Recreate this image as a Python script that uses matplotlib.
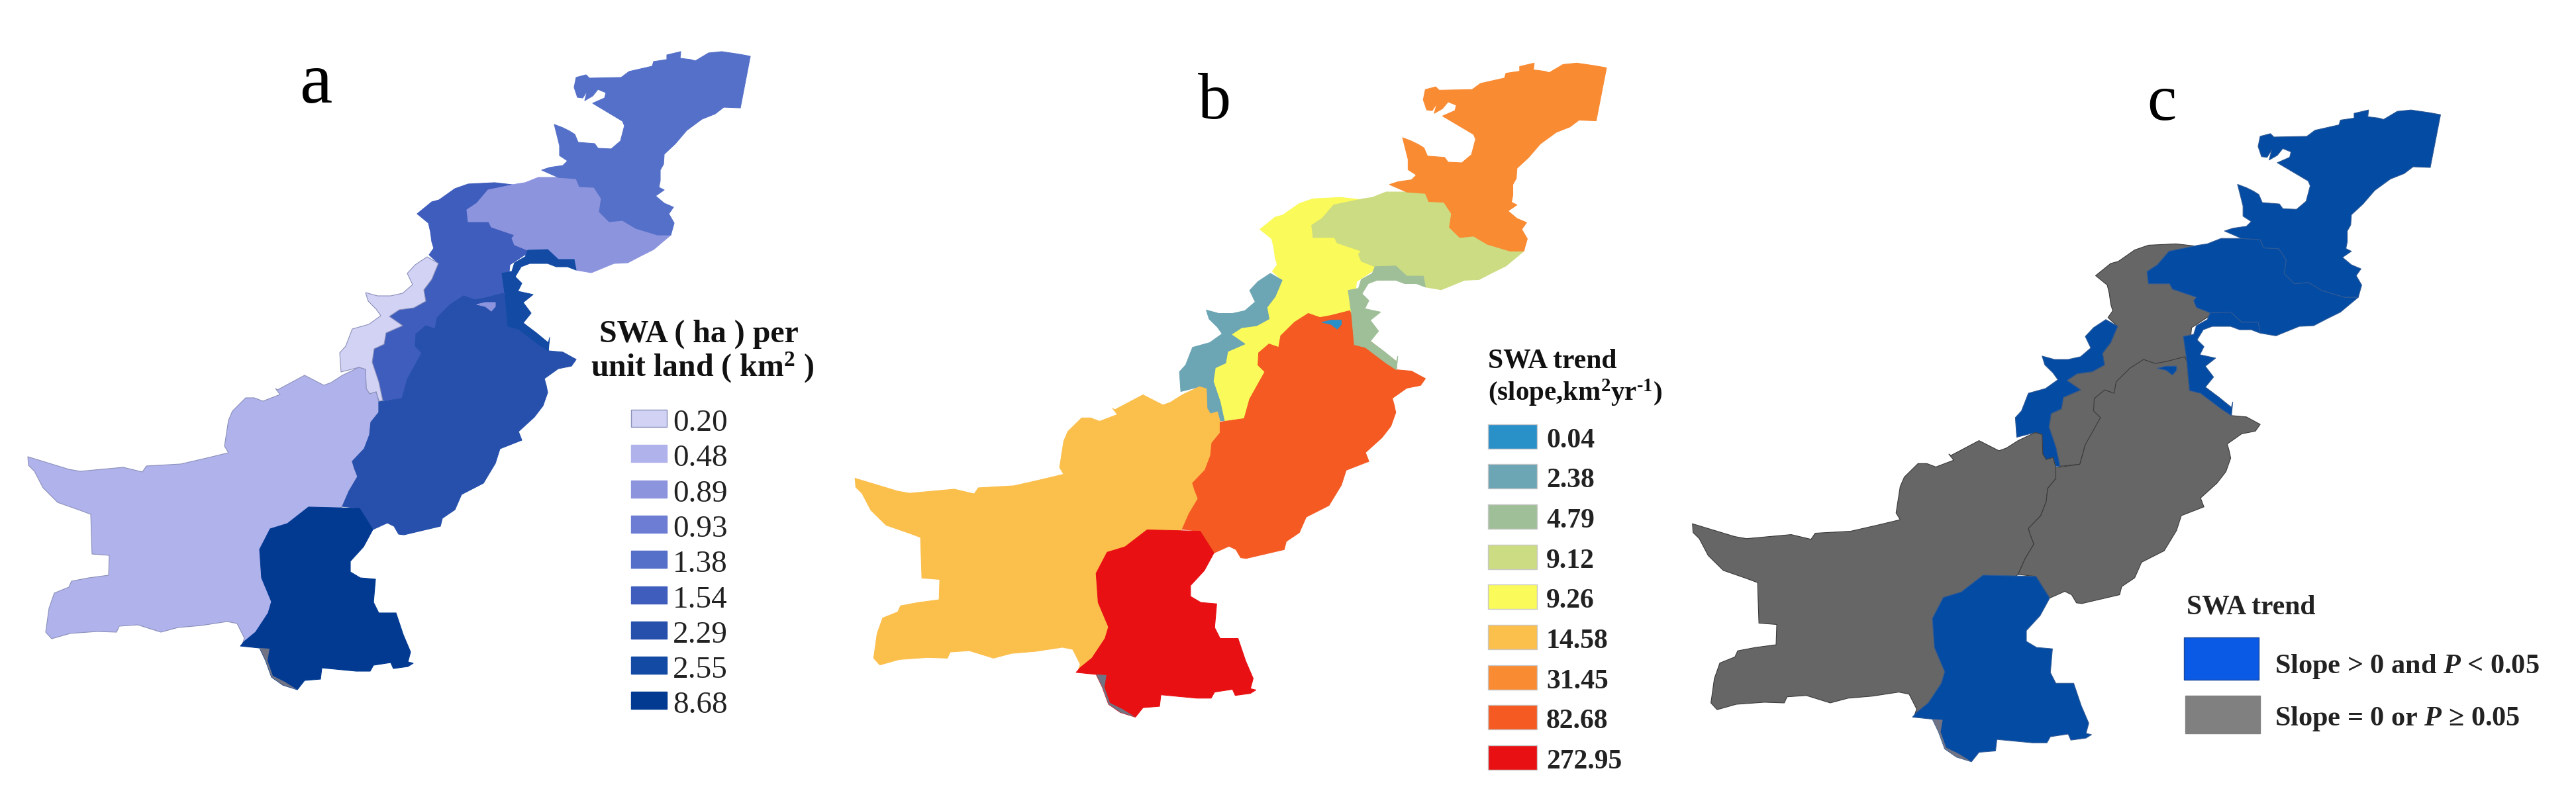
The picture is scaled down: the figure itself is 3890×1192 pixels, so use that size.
import matplotlib
matplotlib.use('Agg')
import matplotlib.pyplot as plt
from matplotlib.patches import Polygon, Rectangle
from matplotlib.transforms import Affine2D

plt.rcParams['font.family'] = ['Liberation Serif', 'DejaVu Serif']
plt.rcParams['mathtext.fontset'] = 'custom'
plt.rcParams['mathtext.rm'] = 'Liberation Serif'
plt.rcParams['mathtext.bf'] = 'Liberation Serif:bold'
plt.rcParams['mathtext.it'] = 'Liberation Serif:italic'
plt.rcParams['mathtext.bfit'] = 'Liberation Serif:italic:bold'

# region outlines, map units
baloch = [(42, 690), (43, 703), (52, 712), (65, 737), (87, 759), (121, 771), (137, 777), (139, 837), (165, 839),
          (164, 869), (134, 873), (108, 878), (104, 887), (82, 896), (74, 919), (69, 955), (78, 965), (106, 957),
          (147, 954), (176, 955), (180, 946), (208, 944), (243, 955), (269, 948), (304, 945), (343, 939), (358, 942),
          (369, 964), (366, 973), (420, 960), (470, 800), (517, 765), (527, 742), (540, 720), (535, 707), (532, 697),
          (550, 678), (558, 657), (560, 638), (572, 623), (572, 607), (568, 592), (558, 595), (553, 587), (552, 558),
          (542, 555), (517, 567), (500, 578), (489, 582), (460, 567), (419, 589), (416, 587), (423, 596), (397, 606),
          (384, 601), (371, 601), (351, 621), (345, 635), (339, 674), (345, 684), (312, 692), (273, 701), (221, 704),
          (215, 713), (186, 706), (121, 712), (104, 709)]
fata = [(552, 442), (570, 447), (590, 447), (608, 443), (623, 430), (615, 413), (627, 400), (645, 388), (662, 398),
        (652, 422), (640, 438), (643, 455), (625, 465), (603, 468), (588, 478), (608, 492), (583, 503), (580, 520),
        (565, 527), (562, 547), (572, 577), (578, 605), (572, 605), (568, 592), (558, 595), (553, 587), (552, 558),
        (542, 555), (515, 562), (513, 533), (522, 523), (532, 497), (557, 490), (575, 477), (568, 467), (556, 455)]
kp = [(630, 323), (652, 305), (663, 302), (687, 285), (707, 278), (747, 276), (782, 280), (800, 380), (770, 400),
      (763, 470), (700, 500), (640, 560), (615, 573), (607, 602), (578, 605), (572, 577), (562, 547), (565, 527),
      (580, 520), (583, 503), (608, 492), (588, 478), (603, 468), (625, 465), (643, 455), (640, 438), (652, 422),
      (662, 398), (648, 385), (655, 375), (652, 365), (650, 350), (647, 337)]
gb = [(780, 278), (793, 276), (813, 268), (843, 268), (870, 270), (875, 282), (897, 283), (908, 300), (905, 320),
      (910, 325), (920, 335), (940, 333), (960, 345), (993, 355), (1013, 355), (987, 377), (967, 387), (948, 397),
      (927, 398), (893, 412), (870, 408), (867, 392), (843, 392), (827, 377), (797, 378), (777, 370), (773, 360),
      (777, 355), (742, 343), (738, 335), (707, 335), (705, 317), (720, 307), (737, 287)]
north = [(818, 257), (830, 253), (850, 250), (857, 243), (845, 235), (845, 220), (837, 188), (850, 193), (860, 198),
         (868, 203), (873, 215), (898, 217), (903, 224), (923, 225), (937, 213), (943, 190), (940, 183), (895, 156),
         (913, 148), (915, 140), (903, 135), (895, 145), (883, 152), (887, 137), (880, 148), (872, 147), (867, 132),
         (870, 117), (885, 113), (890, 118), (938, 117), (950, 108), (985, 100), (987, 93), (1007, 90), (1007, 83),
         (1028, 78), (1027, 88), (1043, 90), (1050, 92), (1070, 80), (1090, 78), (1117, 82), (1133, 85), (1118, 163),
         (1093, 162), (1080, 172), (1060, 180), (1037, 197), (1020, 217), (1003, 233), (1002, 248), (997, 257),
         (997, 273), (995, 283), (1003, 287), (990, 296), (1003, 307), (1017, 313), (1010, 323), (1018, 337),
         (1013, 355), (993, 355), (960, 345), (940, 333), (920, 335), (910, 325), (905, 320), (908, 300), (897, 283),
         (875, 282), (870, 270), (843, 268)]
ajk = [(758, 413), (773, 410), (777, 397), (793, 388), (797, 378), (827, 377), (843, 392), (867, 392), (870, 408),
       (857, 403), (840, 403), (827, 398), (800, 398), (787, 403), (778, 418), (788, 428), (782, 440), (805, 445),
       (790, 457), (802, 473), (790, 488), (810, 503), (828, 518), (830, 510), (828, 530), (813, 520), (783, 497),
       (767, 493), (763, 449)]
punjab = [(517, 765), (527, 742), (540, 720), (535, 707), (532, 697), (550, 678), (558, 657), (560, 638), (572, 623),
          (572, 607), (607, 602), (615, 573), (637, 533), (627, 523), (628, 505), (643, 492), (657, 497), (660, 480),
          (680, 460), (700, 447), (717, 453), (733, 450), (760, 443), (763, 449), (767, 493), (790, 488), (828, 518),
          (828, 530), (850, 532), (870, 543), (863, 553), (843, 557), (822, 572), (825, 583), (827, 593), (820, 613),
          (807, 630), (783, 652), (788, 665), (755, 678), (748, 700), (730, 730), (697, 747), (687, 770), (668, 783),
          (665, 795), (610, 808), (602, 807), (595, 795), (585, 790), (563, 800), (543, 768)]
islamabad = [(720, 460), (733, 457), (748, 457), (748, 463), (742, 470), (733, 463)]
sindh = [(363, 976), (392, 979), (401, 998), (410, 1023), (427, 1035), (449, 1042), (460, 1028), (484, 1026),
         (486, 1009), (538, 1014), (559, 1014), (564, 1005), (590, 1001), (594, 1010), (616, 1007), (624, 1002),
         (616, 1000), (620, 985), (609, 959), (598, 926), (572, 926), (564, 910), (567, 875), (544, 873), (529, 864),
         (529, 848), (549, 826), (563, 800), (543, 768), (466, 766), (434, 791), (408, 799), (392, 830), (395, 873),
         (410, 909), (405, 926), (386, 955), (369, 969)]
coast = [(392, 979), (407, 980), (404, 998), (412, 1021), (430, 1030), (449, 1042), (427, 1035), (410, 1023), (401, 998)]

regions = [kp, fata, gb, north, baloch, punjab, ajk, islamabad, sindh]

# legends
a_labels = ['0.20', '0.48', '0.89', '0.93', '1.38', '1.54', '2.29', '2.55', '8.68']
a_colors = ['#d2d2f5', '#b0b2ec', '#8c94de', '#6e7dd4', '#5570c8', '#3f5dbc', '#2650ac', '#134ba4', '#023a92']
b_labels = ['0.04', '2.38', '4.79', '9.12', '9.26', '14.58', '31.45', '82.68', '272.95']
b_colors = ['#2a90c8', '#6ca5b4', '#9fbf98', '#ccdc82', '#fafa5a', '#fbbf4c', '#f98b33', '#f45a22', '#e81013']
c_labels = ['Slope > 0 and $\\mathbfit{P}$ < 0.05', 'Slope = 0 or $\\mathbfit{P}$ \u2265 0.05']
c_colors = ['#0a5ae6', '#808080']

# value per region, same order as regions
a_values = ['1.54', '0.20', '0.89', '1.38', '0.48', '2.29', '2.55', '0.89', '8.68']
b_values = ['9.26', '2.38', '9.12', '31.45', '14.58', '82.68', '4.79', '0.04', '272.95']
c_sig = [False, True, True, True, False, False, True, True, True]


def draw_map(ax, fills, edges, sx, sy, tx, ty):
    tr = Affine2D().scale(sx, sy).translate(tx, ty) + ax.transData
    for pts, fc, ec in zip(regions, fills, edges):
        ax.add_patch(Polygon(pts, closed=True, fc=fc, ec=ec, lw=0.8, transform=tr, joinstyle='round'))
    ax.add_patch(Polygon(coast, closed=True, fc='#6f7384', ec='none', transform=tr))


fig = plt.figure(figsize=(38.9, 11.92), dpi=100)
ax = fig.add_axes([0, 0, 1, 1])
ax.set_xlim(0, 3890)
ax.set_ylim(1192, 0)
ax.axis('off')

# panel a
a_fill = [a_colors[a_labels.index(v)] for v in a_values]
a_edge = ['#8a8fb8' if v in ('0.48', '0.20') else c for v, c in zip(a_values, a_fill)]
draw_map(ax, a_fill, a_edge, 1, 1, 0, 0)
ax.text(477, 155, 'a', fontsize=80, ha='center', va='baseline')
ax.text(1055, 517, 'SWA ( ha ) per', fontsize=34.5, fontweight='bold', ha='center', va='baseline', color='#111111')
ax.text(1061, 569, 'unit land ( km$^{\\mathbf{2}}$ )', fontsize=34.5, fontweight='bold', ha='center', va='baseline', color='#111111')
for i, (lab, col) in enumerate(zip(a_labels, a_colors)):
    y = 632 + i * 53.3
    ax.add_patch(Rectangle((953, y - 13), 54, 26, fc=col, ec='#8a8fb8' if i == 0 else col, lw=1))
    ax.text(1016, y + 19, lab, fontsize=34, ha='left', va='baseline', color='#222222')

# panel b
b_fill = [b_colors[b_labels.index(v)] for v in b_values]
draw_map(ax, b_fill, b_fill, 1.04, 1.025, 1247.6, 15.4)
ax.text(1834, 179, 'b', fontsize=72, ha='center', va='baseline')
ax.text(2247, 555, 'SWA trend', fontsize=30, fontweight='bold', ha='left', va='baseline', color='#111111')
ax.text(2247, 605, '(slope,km$^{\\mathbf{2}}$yr$^{\\mathbf{\u20101}}$)', fontsize=29.5, fontweight='bold', ha='left', va='baseline', color='#111111')
for i, (lab, col) in enumerate(zip(b_labels, b_colors)):
    y = 658.5 + i * 60.7
    ax.add_patch(Rectangle((2247, y - 18), 74, 37, fc=col, ec='#c8c8c8', lw=1))
    ax.text(2335, y + 17, lab, fontsize=30, fontweight='bold', ha='left', va='baseline', color='#222222')

# panel c
c_fill = ['#034ba3' if s else '#666666' for s in c_sig]
c_edge = ['#2f5a96' if s else '#3a3a3a' for s in c_sig]
draw_map(ax, c_fill, c_edge, 1.0355, 1.0214, 2512.2, 86.5)
ax.text(3264, 181, 'c', fontsize=72, ha='center', va='baseline')
ax.text(3302, 928, 'SWA trend', fontsize=30, fontweight='bold', ha='left', va='baseline', color='#222222')
for i, (lab, col) in enumerate(zip(c_labels, c_colors)):
    y = 963 + i * 88
    h = 64 if i == 0 else 57
    ax.add_patch(Rectangle((3298 + i * 2, y), 113, h, fc=col, ec='#1a4a9a' if i == 0 else col, lw=1))
    ax.text(3435, 1017 + i * 79, lab, fontsize=30.4, fontweight='bold', ha='left', va='baseline', color='#222222')

fig.savefig('out.png', dpi=100, facecolor='white')
